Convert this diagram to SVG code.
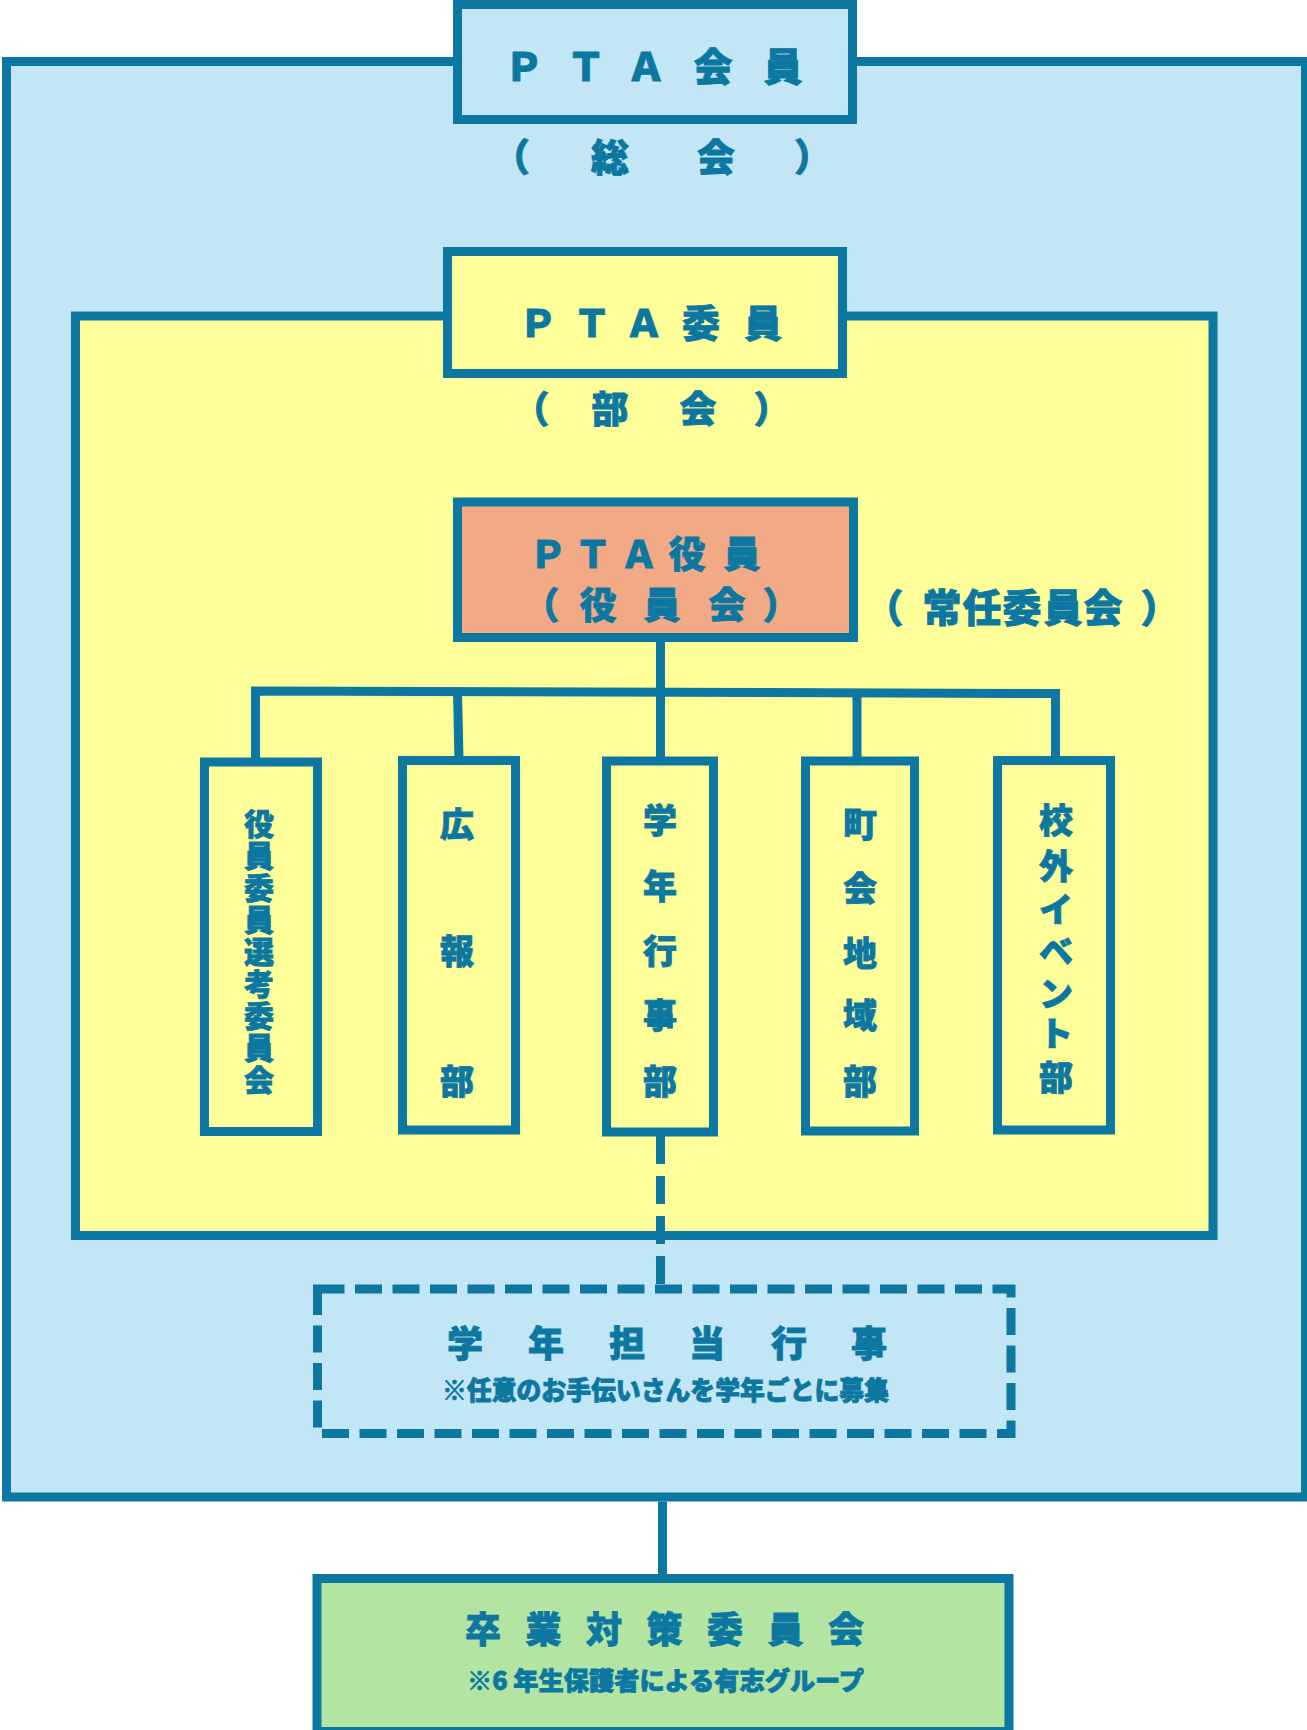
<svg xmlns="http://www.w3.org/2000/svg" width="1307" height="1730" viewBox="0 0 1307 1730">
<style>
.box{stroke:#0c77a1;stroke-width:9}
.line{fill:none;stroke:#0c77a1;stroke-width:9}
.dash{stroke-dasharray:27 10.5}
.t{font-family:"Noto Sans CJK JP","Noto Sans CJK SC",sans-serif;font-weight:900;fill:#0c77a1;stroke:#0c77a1;stroke-width:0.8;text-anchor:middle;dominant-baseline:central}
.blue{fill:#c2e6f5}
.yellow{fill:#ffff99}
.salmon{fill:#f1aa85}
.green{fill:#b3e4a2}
</style>
<rect width="1307" height="1730" fill="#ffffff"/>
<g id="general-assembly-area">
<rect class="box blue" x="6.5" y="61.5" width="1299" height="1435.5"/>
</g>
<g id="pta-members">
<rect class="box blue" x="457.5" y="4.5" width="395" height="115"/>
<text class="t" font-size="39" x="524 586 646 713 783" y="64">ＰＴＡ会員</text>
<text class="t" font-size="38" x="511 610 716 813" y="154">（総会）</text>
</g>
<g id="committee-area">
<rect class="box yellow" x="75.5" y="316" width="1137.5" height="919.5"/>
</g>
<g id="pta-committee">
<rect class="box yellow" x="447.5" y="251.5" width="395" height="122"/>
<text class="t" font-size="38" x="538 592 644 701 763" y="320">ＰＴＡ委員</text>
<text class="t" font-size="37" x="531 610 698 772" y="407">（部会）</text>
</g>
<g id="pta-officers">
<rect class="box salmon" x="457.5" y="502" width="396" height="135.5"/>
<text class="t" font-size="37" x="548 593 639 687 742" y="552">ＰＴＡ役員</text>
<text class="t" font-size="37" x="541 598 662 727 781" y="603">（役員会）</text>
</g>
<g id="standing-committee-label">
<text class="t" font-size="39" x="884 942 982 1022 1063 1103 1160" y="605">（常任委員会）</text>
</g>
<g id="connectors">
<path class="line" d="M660.5 641.5V692"/>
<path class="line" d="M255.5 762V691L1055.5 693.5V760.5"/>
<path class="line" d="M457.5 691L459 760.5"/>
<path class="line" d="M660.5 692V761"/>
<path class="line" d="M857 692.5V761"/>
<path class="line" d="M660.5 1136V1285" style="stroke-dasharray:28 12"/>
<path class="line" d="M662.5 1501.5V1574"/>
</g>
<g id="box-selection">
<rect class="box yellow" x="204.5" y="762" width="113" height="369.5"/>
<text class="t" font-size="30" x="259 259 259 259 259 259 259 259 259" y="822 854 886 918 950 982 1014 1046 1078">役員委員選考委員会</text>
</g>
<g id="box-public-relations">
<rect class="box yellow" x="402.5" y="760.5" width="113" height="369.5"/>
<text class="t" font-size="34" x="457 457 457" y="822 949 1079">広報部</text>
</g>
<g id="box-grade-events">
<rect class="box yellow" x="606.5" y="761" width="107" height="371"/>
<text class="t" font-size="34" x="660 660 660 660 660" y="818 884 949 1013 1079">学年行事部</text>
</g>
<g id="box-community">
<rect class="box yellow" x="805.5" y="761" width="109" height="370"/>
<text class="t" font-size="34" x="860 860 860 860 860" y="822 886 951 1013 1079">町会地域部</text>
</g>
<g id="box-events">
<rect class="box yellow" x="997.5" y="760.5" width="113" height="369.5"/>
<text class="t" font-size="34" x="1056 1056 1056 1056 1056 1056 1056" y="818 864 907 949 991 1031 1075">校外イベント部</text>
</g>
<g id="grade-event-helpers">
<rect class="box blue dash" x="317.5" y="1289" width="693.5" height="144.5" fill="none"/>
<text class="t" font-size="36" x="465 546 627 707 789 869" y="1341">学年担当行事</text>
<text class="t" font-size="26" x="665.5" y="1388" textLength="447" lengthAdjust="spacingAndGlyphs">※任意のお手伝いさんを学年ごとに募集</text>
</g>
<g id="graduation-committee">
<rect class="box green" x="317" y="1578.5" width="692" height="153"/>
<text class="t" font-size="36" x="483 543.5 604 664.5 725 785.5 846" y="1627">卒業対策委員会</text>
<text class="t" font-size="25" x="665.5" y="1679" textLength="397" lengthAdjust="spacingAndGlyphs">※6 年生保護者による有志グループ</text>
</g>
</svg>
